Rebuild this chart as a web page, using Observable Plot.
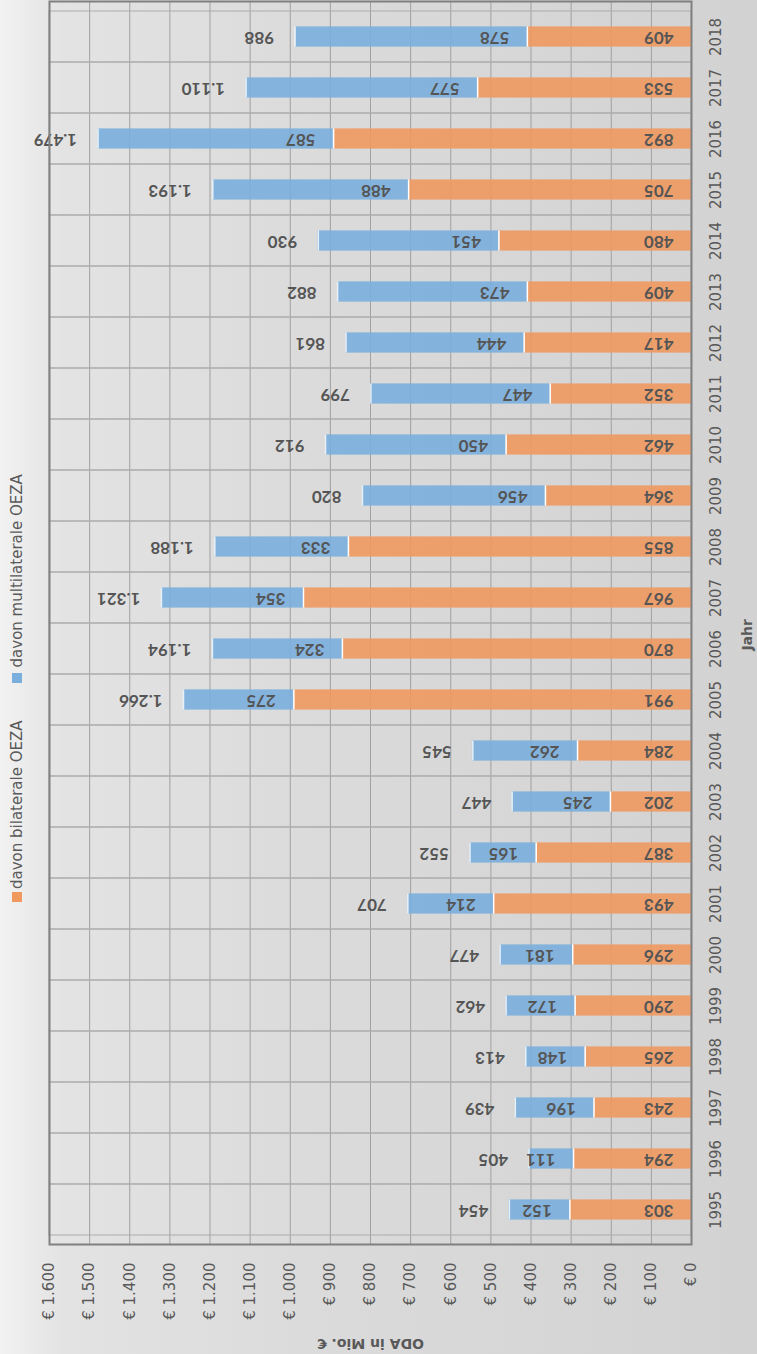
<!DOCTYPE html>
<html>
<head>
<meta charset="utf-8">
<script src="https://cdn.jsdelivr.net/npm/d3@7"></script>
<script src="https://cdn.jsdelivr.net/npm/@observablehq/plot@0.6"></script>
<style>
html, body { margin: 0; padding: 0; }
body {
  width: 757px; height: 1354px; overflow: hidden;
  background: linear-gradient(to right, #f2f2f2 0%, #e3e3e3 8%, #dbdbdb 40%, #d2d2d2 100%);
  font-family: "DejaVu Sans", sans-serif;
}
#wrap { position: relative; width: 757px; height: 1354px; }
#legend {
  position: absolute; left: 8px; top: 902px; width: 440px; height: 18px;
  transform-origin: 0 0; transform: rotate(-90deg);
  display: flex; align-items: center; font-size: 15px; color: #595959; white-space: nowrap;
}
#legend .sw { width: 10px; height: 10px; flex: none; }
</style>
</head>
<body>
<div id="wrap">
  <div id="chart"></div>
  <div id="legend"></div>
</div>
<script>
// ---- data ----
const years = [1995, 1996, 1997, 1998, 1999, 2000, 2001, 2002, 2003, 2004, 2005, 2006,
               2007, 2008, 2009, 2010, 2011, 2012, 2013, 2014, 2015, 2016, 2017, 2018];
const bilateral = [303, 294, 243, 265, 290, 296, 493, 387, 202, 284, 991, 870,
                   967, 855, 364, 462, 352, 417, 409, 480, 705, 892, 533, 409];
const multilateral = [152, 111, 196, 148, 172, 181, 214, 165, 245, 262, 275, 324,
                      354, 333, 456, 450, 447, 444, 473, 451, 488, 587, 577, 578];
const totals = [454, 405, 439, 413, 462, 477, 707, 552, 447, 545, 1266, 1194,
                1321, 1188, 820, 912, 799, 861, 882, 930, 1193, 1479, 1110, 988];
const seriesNames = ["davon bilaterale OEZA", "davon multilaterale OEZA"];
const seriesColors = ["#f0995f", "#7aaedd"];
const xTicks = [0, 100, 200, 300, 400, 500, 600, 700, 800, 900, 1000, 1100, 1200, 1300, 1400, 1500, 1600];
const xTitle = "ODA in Mio. €";
const yTitle = "Jahr";

// ---- derived tables ----
const loc = d3.formatLocale({decimal: ",", thousands: ".", grouping: [3], currency: ["€ ", ""]});
const fmtNum = loc.format(",d");
const fmtEuro = d => "€ " + fmtNum(d);

const long = [];
years.forEach((y, i) => {
  long.push({year: y, series: seriesNames[0], value: bilateral[i]});
  long.push({year: y, series: seriesNames[1], value: multilateral[i]});
});
const rows = years.map((y, i) => ({year: y, bilateral: bilateral[i], total: totals[i]}));

const barInset = 15.4;
const labelFont = {fontFamily: "Lato, 'DejaVu Sans', sans-serif", fontWeight: "bold", fontSize: 17, fill: "#555555"};

const chart = Plot.plot({
  width: 757, height: 1354,
  marginTop: 1, marginRight: 66, marginBottom: 110, marginLeft: 49,
  style: {background: "transparent", fontFamily: "'DejaVu Sans', sans-serif", fontSize: "15px", color: "#595959"},
  x: {domain: [0, xTicks[xTicks.length - 1]], reverse: true, label: null},
  y: {type: "band", domain: [...years].reverse(), padding: 0, label: null},
  color: {domain: seriesNames, range: seriesColors},
  marks: [
    Plot.gridX({ticks: xTicks, stroke: "#a0a0a0", strokeOpacity: 1}),
    Plot.barX(years, {y: d => d, x1: () => 0, x2: () => xTicks[xTicks.length - 1], fill: "none", stroke: "#ababab"}),
    Plot.barX(long, Plot.stackX({y: "year", x: "value", fill: "series", insetTop: barInset, insetBottom: barInset, fillOpacity: 0.9})),
    Plot.tickX(rows, {x: "bilateral", y: "year", stroke: "white", strokeWidth: 1.5, insetTop: barInset, insetBottom: barInset}),
    Plot.tickX(rows, {x: "total", y: "year", stroke: "white", strokeWidth: 1.5, strokeOpacity: 0.8, insetTop: barInset, insetBottom: barInset}),
    Plot.text(long, Plot.stackX1({y: "year", x: "value", z: "series", text: d => fmtNum(d.value),
      rotate: 180, textAnchor: "start", lineAnchor: "middle", dx: -18, ...labelFont})),
    Plot.text(rows, {x: "total", y: "year", text: d => fmtNum(d.total),
      rotate: 180, textAnchor: "start", lineAnchor: "middle", dx: -21, ...labelFont}),
    Plot.frame({stroke: "#808080", strokeWidth: 2}),
    Plot.axisX({ticks: xTicks, tickFormat: fmtEuro, tickRotate: -90, tickSize: 0, tickPadding: 18,
      textAnchor: "end", lineAnchor: "middle", label: null, fontSize: 15}),
    Plot.axisY({anchor: "right", tickFormat: d => String(d), tickRotate: -90, tickSize: 0, tickPadding: 19,
      textAnchor: "middle", lineAnchor: "top", label: null, fontSize: 15}),
    Plot.text([xTitle], {text: d => d, frameAnchor: "bottom", dy: 94, rotate: 180,
      fontWeight: "bold", fontSize: 14, fill: "#595959"}),
    Plot.text([yTitle], {text: d => d, frameAnchor: "right", dx: 56, dy: -4, rotate: -90,
      fontWeight: "bold", fontSize: 14, fill: "#595959"})
  ]
});
document.getElementById("chart").appendChild(chart);

// ---- legend (rotated like the chart) ----
const legend = document.getElementById("legend");
const gaps = [3, 6];
seriesNames.forEach((name, i) => {
  const sw = document.createElement("span");
  sw.className = "sw";
  sw.style.background = seriesColors[i];
  if (i > 0) sw.style.marginLeft = "37px";
  const tx = document.createElement("span");
  tx.textContent = name;
  tx.style.marginLeft = gaps[i] + "px";
  legend.appendChild(sw);
  legend.appendChild(tx);
});
</script>
</body>
</html>
